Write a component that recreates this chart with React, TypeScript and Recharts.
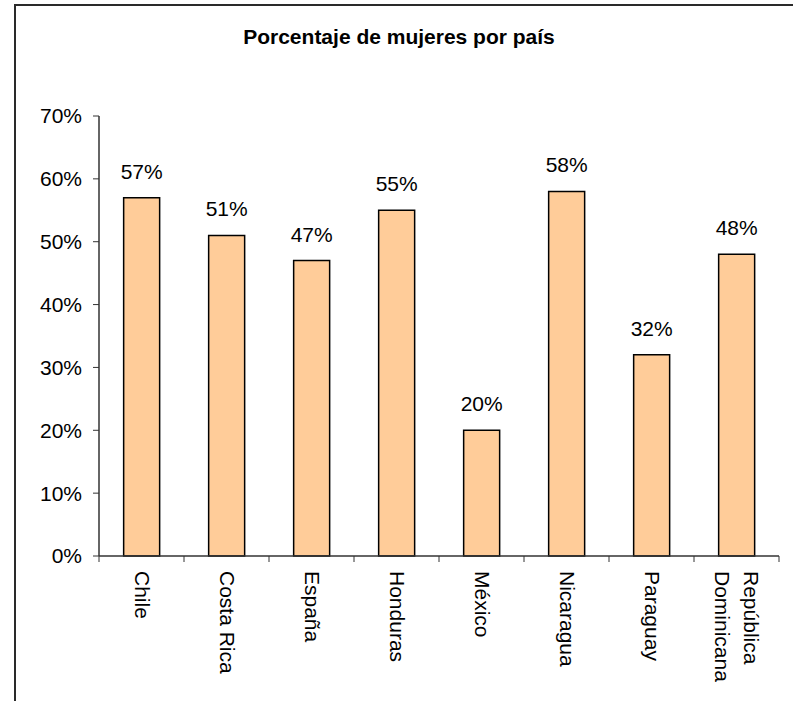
import { Bar, BarChart, LabelList, XAxis, YAxis } from "recharts";

// Datos del gráfico
const countries = [
  "Chile",
  "Costa Rica",
  "España",
  "Honduras",
  "México",
  "Nicaragua",
  "Paraguay",
  "República\nDominicana",
];
const womenPct = [57, 51, 47, 55, 20, 58, 32, 48];
const yTicks = [0, 10, 20, 30, 40, 50, 60, 70];

const FONT = "Arial, 'Liberation Sans', sans-serif";
const BAR_FILL = "#FFCC99";
const AXIS = "#333333";
const FRAME = "#888888";

const data = countries.map((name, i) => ({ name, value: womenPct[i] }));

// Rotated category label + tick marks at the category boundaries
function CategoryTick(props: any) {
  const { x, y, payload, index } = props;
  const half = payload?.offset ?? 0;
  const lines = String(payload.value).split("\n");
  const ty = y + 15;
  const gap = 29;
  const first = lines.length > 1 ? -((lines.length - 1) * gap) / 2 + 7 : 7;
  return (
    <g>
      {index === 0 && (
        <line x1={x - half} y1={y} x2={x - half} y2={y + 6} stroke={AXIS} strokeWidth={1} />
      )}
      <line x1={x + half} y1={y} x2={x + half} y2={y + 6} stroke={AXIS} strokeWidth={1} />
      <text
        x={x}
        y={ty}
        transform={`rotate(90, ${x}, ${ty})`}
        textAnchor="start"
        fontFamily={FONT}
        fontSize={21}
        fill="#000"
      >
        {lines.map((line, i) => (
          <tspan key={line} x={x} dy={i === 0 ? first : gap}>
            {line}
          </tspan>
        ))}
      </text>
    </g>
  );
}

export default function App() {
  return (
    <div
      style={{
        position: "absolute",
        left: 0,
        top: 0,
        width: 793,
        height: 701,
        overflow: "hidden",
        background: "#fff",
      }}
    >
      <div
        style={{
          position: "absolute",
          left: 14,
          top: 4,
          width: 820,
          height: 740,
          border: "2px solid #2a2a2a",
        }}
      />
      <div
        style={{
          position: "absolute",
          left: 0,
          width: 798,
          top: 25,
          textAlign: "center",
          fontFamily: FONT,
          fontWeight: "bold",
          fontSize: 21,
          color: "#000",
        }}
      >
        Porcentaje de mujeres por país
      </div>
      <div style={{ position: "absolute", left: 0, top: 0 }}>
        <BarChart
          width={793}
          height={701}
          data={data}
          margin={{ top: 116, right: 14, left: 39, bottom: 5 }}
          barCategoryGap="29%"
        >
          <XAxis
            dataKey="name"
            interval={0}
            height={140}
            tickLine={false}
            tickSize={0}
            tickMargin={0}
            axisLine={{ stroke: AXIS, strokeWidth: 1.5 }}
            tick={<CategoryTick />}
          />
          <XAxis
            xAxisId="top"
            dataKey="name"
            orientation="top"
            height={0}
            tick={false}
            tickLine={false}
            axisLine={{ stroke: FRAME, strokeWidth: 2 }}
          />
          <YAxis
            domain={[0, 70]}
            ticks={yTicks}
            width={60}
            tickSize={6}
            tickMargin={11}
            tickFormatter={(v) => `${v}%`}
            tick={{ fontFamily: FONT, fontSize: 21, fill: "#000" }}
            tickLine={{ stroke: AXIS }}
            axisLine={{ stroke: AXIS, strokeWidth: 1.5 }}
          />
          <YAxis
            yAxisId="right"
            orientation="right"
            domain={[0, 70]}
            width={0}
            tick={false}
            tickLine={false}
            axisLine={{ stroke: FRAME, strokeWidth: 2 }}
          />
          <Bar
            dataKey="value"
            fill={BAR_FILL}
            stroke="#000"
            strokeWidth={1.5}
            isAnimationActive={false}
          >
            <LabelList
              dataKey="value"
              position="top"
              offset={19}
              formatter={(v: any) => `${v}%`}
              fill="#000"
              fontFamily={FONT}
              fontSize={21}
            />
          </Bar>
        </BarChart>
      </div>
    </div>
  );
}
